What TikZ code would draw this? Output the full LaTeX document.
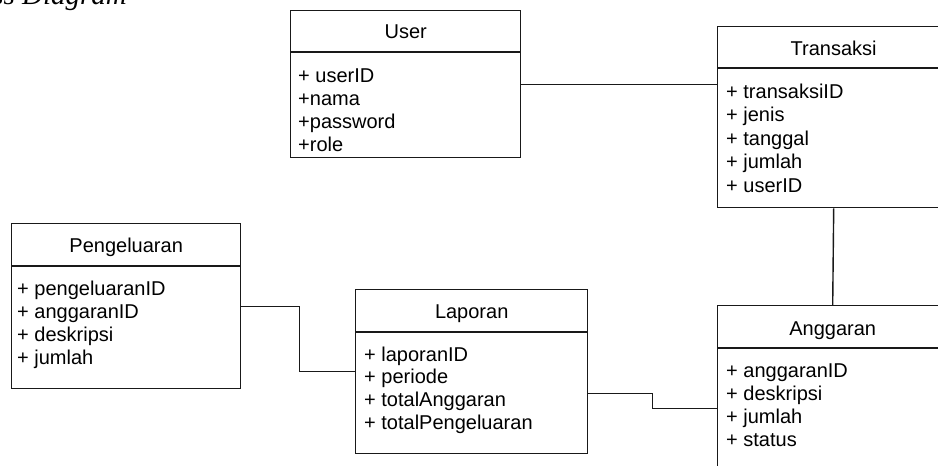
\documentclass[tikz,border=0pt]{standalone}
\usepackage{fontspec}
\setmainfont{Liberation Sans}
\newfontfamily\headserif{Liberation Serif}
\begin{document}
\begin{tikzpicture}[x=1pt,y=-1pt,
  line/.style={draw=black!90,line width=1.4pt},
  classbox/.style={line,rectangle,inner sep=0pt,anchor=north west},
  ttl/.style={font=\fontsize{20}{24}\selectfont,anchor=base,inner sep=0pt,text=black},
  attr/.style={font=\fontsize{20}{24}\selectfont,anchor=base west,inner sep=0pt,text=black}]
\useasboundingbox (0,0) rectangle (938,466);
\clip (0,0) rectangle (938,466);
\fill[white] (0,0) rectangle (938,466);

\node[font=\headserif\itshape\fontsize{29}{32}\selectfont,anchor=base east,inner sep=0pt] (heading) at (127,4) {Class Diagram};

% class boxes
\node[classbox,minimum width=230,minimum height=147] (user) at (290,10) {};
\node[classbox,minimum width=232,minimum height=181] (trans) at (717,26) {};
\node[classbox,minimum width=229,minimum height=165] (peng) at (11,223) {};
\node[classbox,minimum width=232,minimum height=164] (lap) at (355,289) {};
\node[classbox,minimum width=230,minimum height=206] (angg) at (717,305) {};

% header separators
\foreach \b/\h in {user/42,trans/42,peng/43,lap/43,angg/43}
  \draw[line] ([yshift=-\h pt]\b.north west) -- ([yshift=-\h pt]\b.north east);

% titles
\node[ttl] (userT) at ([yshift=-28pt]user.north) {User};
\node[ttl] (transT) at ([yshift=-29pt]trans.north) {Transaksi};
\node[ttl] (pengT) at ([yshift=-29pt]peng.north) {Pengeluaran};
\node[ttl] (lapT) at ([yshift=-29pt]lap.north) {Laporan};
\node[ttl] (anggT) at ([yshift=-30pt]angg.north) {Anggaran};

% attributes
\foreach \t [count=\i] in {+ userID,+nama,+password,+role}
  \node[attr] (u\i) at ([xshift=8pt,yshift={-72pt-(\i-1)*23.3pt}]user.north west) {\t};
\foreach \t [count=\i] in {+ transaksiID,+ jenis,+ tanggal,+ jumlah,+ userID}
  \node[attr] (t\i) at ([xshift=9pt,yshift={-72pt-(\i-1)*23.5pt}]trans.north west) {\t};
\foreach \t [count=\i] in {+ pengeluaranID,+ anggaranID,+ deskripsi,+ jumlah}
  \node[attr] (p\i) at ([xshift=6pt,yshift={-72pt-(\i-1)*23.3pt}]peng.north west) {\t};
\foreach \t [count=\i] in {+ laporanID,+ periode,+ totalAnggaran,+ totalPengeluaran}
  \node[attr] (l\i) at ([xshift=9pt,yshift={-72pt-(\i-1)*22.7pt}]lap.north west) {\t};
\foreach \t [count=\i] in {+ anggaranID,+ deskripsi,+ jumlah,+ status}
  \node[attr] (a\i) at ([xshift=9pt,yshift={-72pt-(\i-1)*23.3pt}]angg.north west) {\t};

% connectors
\draw[line] (user.east) -- (user.east -| trans.west);
\draw[line] (trans.south) -- (angg.north);
\draw[line] (peng.east) -- ++(58,0) |- (lap.west);
\draw[line] ([yshift=-22pt]lap.east) -- ++(64,0) |- (angg.west);
\end{tikzpicture}
\end{document}
